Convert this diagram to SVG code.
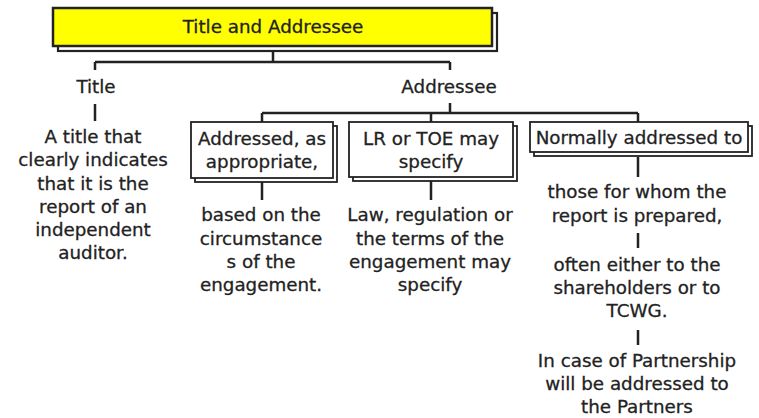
<svg xmlns="http://www.w3.org/2000/svg" width="759" height="418" viewBox="0 0 759 418">
<style>
.t{font-family:"DejaVu Sans","Noto Sans",sans-serif;font-size:18.3px;fill:#222;stroke:#222;stroke-width:0.3;text-anchor:middle}
.box{fill:#fff;stroke:#222;stroke-width:1.8}
.sh{fill:#fff;stroke:#222;stroke-width:1.8}
.ln{stroke:#222;stroke-width:2.5;fill:none}
</style>
<rect width="759" height="418" fill="#fff"/>
<g id="connectors">
<path class="ln" d="M273 52V62M95 62H450M95 62V70M450 62V70"/>
<path class="ln" d="M95 104V121"/>
<path class="ln" d="M450 103V113M262 113H638M262 113V122M431 113V122M638 113V122"/>
<path class="ln" d="M262 182V200M431 181V200M638 157V177"/>
<path class="ln" d="M638 233V248M638 330V345"/>
</g>
<g id="root">
<rect x="58" y="13" width="439" height="38" fill="#fff" stroke="#222" stroke-width="2.2"/>
<rect x="53" y="8" width="439" height="38" fill="#ffff00" stroke="#222" stroke-width="2.5"/>
<text class="t" x="273" y="33">Title and Addressee</text>
</g>
<g id="title">
<text class="t" x="96" y="93">Title</text>
</g>
<g id="title-desc">
<text class="t" x="93" y="143">A title that</text>
<text class="t" x="93" y="166">clearly indicates</text>
<text class="t" x="93" y="190">that it is the</text>
<text class="t" x="93" y="213">report of an</text>
<text class="t" x="93" y="236">independent</text>
<text class="t" x="93" y="259">auditor.</text>
</g>
<g id="addressee">
<text class="t" x="449" y="93">Addressee</text>
</g>
<g id="box-addressed">
<rect class="sh" x="195" y="126" width="142" height="56"/>
<rect class="box" x="191" y="122" width="142" height="56"/>
<text class="t" x="262" y="145">Addressed, as</text>
<text class="t" x="262" y="168">appropriate,</text>
</g>
<g id="desc-addressed">
<text class="t" x="261" y="221">based on the</text>
<text class="t" x="261" y="245">circumstance</text>
<text class="t" x="261" y="268">s of the</text>
<text class="t" x="261" y="291">engagement.</text>
</g>
<g id="box-lr">
<rect class="sh" x="353" y="126" width="164" height="55"/>
<rect class="box" x="349" y="122" width="164" height="55"/>
<text class="t" x="431" y="145">LR or TOE may</text>
<text class="t" x="431" y="168">specify</text>
</g>
<g id="desc-lr">
<text class="t" x="430" y="221">Law, regulation or</text>
<text class="t" x="430" y="245">the terms of the</text>
<text class="t" x="430" y="268">engagement may</text>
<text class="t" x="430" y="291">specify</text>
</g>
<g id="box-normally">
<rect class="sh" x="534" y="126" width="218" height="30"/>
<rect class="box" x="530" y="122" width="218" height="30"/>
<text class="t" x="639" y="144">Normally addressed to</text>
</g>
<g id="desc-normally-1">
<text class="t" x="637" y="198">those for whom the</text>
<text class="t" x="637" y="222">report is prepared,</text>
</g>
<g id="desc-normally-2">
<text class="t" x="637" y="271">often either to the</text>
<text class="t" x="637" y="294">shareholders or to</text>
<text class="t" x="637" y="317">TCWG.</text>
</g>
<g id="desc-normally-3">
<text class="t" x="637" y="367">In case of Partnership</text>
<text class="t" x="637" y="390">will be addressed to</text>
<text class="t" x="637" y="413">the Partners</text>
</g>
</svg>
